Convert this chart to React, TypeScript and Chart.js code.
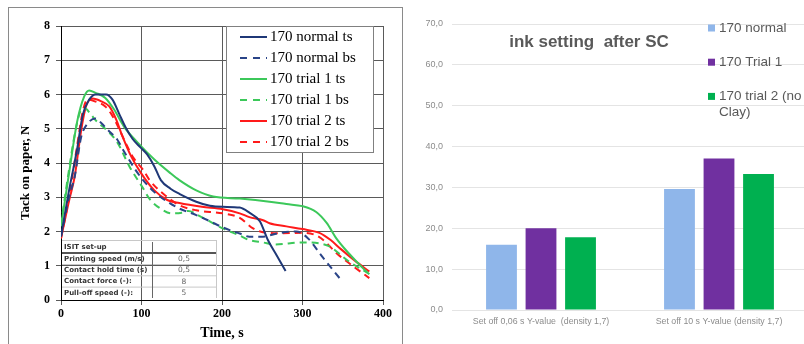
import React, { useEffect, useRef } from "react";
import { Chart, registerables } from "chart.js";

Chart.register(...registerables);

// ---------- Left chart data (time s, tack N) ----------
const normalTs: [number, number][] = [
  [0, 1.85], [10, 3.2], [20, 4.4], [27, 5.4], [35, 5.85], [43, 6.0], [56, 6.0], [64, 5.85],
  [72, 5.45], [80, 5.05], [89, 4.7], [99, 4.45], [107, 4.25], [116, 3.9], [124, 3.5], [136, 3.25],
  [147, 3.1], [168, 2.87], [185, 2.75], [201, 2.72], [222, 2.7], [234, 2.55], [247, 2.3],
  [257, 1.75], [268, 1.3], [279, 0.85],
];
const normalBs: [number, number][] = [
  [0, 1.85], [10, 3.0], [17, 3.6], [25, 4.75], [33, 5.15], [43, 5.3], [50, 5.17], [58, 4.97],
  [70, 4.68], [78, 4.35], [85, 4.08], [91, 3.85], [102, 3.5], [116, 3.15], [127, 2.95],
  [147, 2.67], [168, 2.48], [185, 2.3], [201, 2.12], [222, 1.94], [234, 1.85], [251, 1.85],
  [270, 1.95], [292, 2.0], [306, 1.82], [325, 1.25], [346, 0.64],
];
const trial1Ts: [number, number][] = [
  [0, 2.15], [10, 3.7], [20, 5.2], [29, 5.95], [35, 6.12], [43, 6.05], [55, 5.9], [66, 5.56],
  [78, 5.07], [95, 4.6], [116, 4.1], [136, 3.7], [147, 3.5], [168, 3.2], [189, 3.02],
  [222, 2.96], [259, 2.87], [280, 2.8], [300, 2.74], [317, 2.57], [330, 2.25], [342, 1.8],
  [358, 1.35], [375, 0.93], [383, 0.75],
];
const trial1Bs: [number, number][] = [
  [0, 2.2], [8, 3.5], [18, 4.95], [25, 5.55], [30, 5.6], [36, 5.45], [45, 5.2], [55, 5.0],
  [70, 4.6], [85, 3.9], [102, 3.26], [110, 2.95], [127, 2.62], [137, 2.53], [150, 2.55],
  [158, 2.6], [174, 2.43], [201, 2.09], [222, 1.88], [234, 1.75], [251, 1.68], [265, 1.62],
  [300, 1.68], [330, 1.6], [358, 1.12], [381, 0.79],
];
const trial2Ts: [number, number][] = [
  [0, 1.8], [10, 2.9], [17, 3.6], [25, 4.95], [31, 5.65], [39, 5.88], [50, 5.8], [60, 5.65],
  [68, 5.3], [76, 4.8], [87, 4.2], [99, 3.72], [116, 3.2], [132, 2.92], [147, 2.83],
  [175, 2.72], [201, 2.65], [222, 2.53], [234, 2.42], [251, 2.33], [259, 2.24], [280, 2.15],
  [300, 2.07], [321, 1.96], [335, 1.75], [347, 1.5], [365, 1.15], [383, 0.83],
];
const trial2Bs: [number, number][] = [
  [0, 1.8], [10, 3.0], [20, 4.5], [27, 5.5], [33, 5.85], [42, 5.8], [55, 5.65], [62, 5.45],
  [69, 5.15], [81, 4.55], [90, 4.15], [102, 3.8], [110, 3.5], [127, 3.1], [147, 2.77],
  [168, 2.62], [201, 2.53], [222, 2.4], [238, 2.1], [251, 1.98], [275, 1.95], [300, 1.96],
  [320, 1.85], [345, 1.31], [365, 0.95], [383, 0.64],
];
const leftSeriesNames = [
  "170 normal ts", "170 normal bs", "170 trial 1 ts", "170 trial 1 bs", "170 trial 2 ts", "170 trial 2 bs",
];
const leftSeriesData = [normalTs, normalBs, trial1Ts, trial1Bs, trial2Ts, trial2Bs];
const leftSeriesColors = ["#1f3877", "#2a4488", "#3cc85a", "#3cc85a", "#ff1a1a", "#ff1a1a"];
const leftSeriesDashed = [false, true, false, true, false, true];

const setupTitle = "ISIT set-up";
const setupLabels = ["Printing speed (m/s)", "Contact hold time (s)", "Contact force (-):", "Pull-off speed (-):"];
const setupValues = ["0,5", "0,5", "8", "5"];

// ---------- Right chart data ----------
const barCategories = ["Set off 0,06 s Y-value  (density 1,7)", "Set off 10 s Y-value (density 1,7)"];
const barSeriesNames = ["170 normal", "170 Trial 1", "170 trial 2 (no Clay)"];
const barLegendLines = [["170 normal"], ["170 Trial 1"], ["170 trial 2 (no", "Clay)"]];
const normalValues = [16.0, 29.6];
const trial1Values = [20.0, 37.1];
const trial2Values = [17.8, 33.3];
const barColors = ["#8fb6ea", "#7030a0", "#00b050"];
const barTitle = "ink setting  after SC";

const SERIF = "'Liberation Serif', 'Times New Roman', serif";
const SANS = "'Liberation Sans', Arial, sans-serif";

const leftOverlay = {
  id: "leftOverlay",
  afterDraw(chart: any) {
    const ctx = chart.ctx as CanvasRenderingContext2D;
    const a = chart.chartArea;
    ctx.save();
    // legend box
    const bx = a.left + 165, by = a.top, bw = 147, bh = 126;
    ctx.fillStyle = "#fff";
    ctx.fillRect(bx, by, bw, bh);
    ctx.strokeStyle = "#808080";
    ctx.lineWidth = 1;
    ctx.strokeRect(bx + 0.5, by + 0.5, bw, bh);
    ctx.font = `15px ${SERIF}`;
    ctx.textBaseline = "middle";
    ctx.textAlign = "left";
    leftSeriesNames.forEach((name, i) => {
      const y = by + 11 + i * 21;
      ctx.strokeStyle = leftSeriesColors[i];
      ctx.lineWidth = 2;
      ctx.setLineDash(leftSeriesDashed[i] ? [7, 6] : []);
      ctx.beginPath();
      ctx.moveTo(bx + 14, y);
      ctx.lineTo(bx + 41, y);
      ctx.stroke();
      ctx.setLineDash([]);
      ctx.fillStyle = "#000";
      ctx.fillText(name, bx + 44, y);
    });
    // set-up table
    const tx = a.left + 1, tr = a.left + 155, tcol = a.left + 91;
    const ty = a.bottom - 60;
    ctx.strokeStyle = "#c8c8c8";
    ctx.lineWidth = 1;
    ctx.beginPath();
    ctx.moveTo(tx, ty + 0.5); ctx.lineTo(tr, ty + 0.5);
    ctx.moveTo(tr + 0.5, ty); ctx.lineTo(tr + 0.5, a.bottom - 2);
    for (let r = 0; r < 3; r++) {
      const ly = ty + 24.5 + r * 11.3;
      ctx.moveTo(tx, ly); ctx.lineTo(tr, ly);
    }
    ctx.stroke();
    ctx.strokeStyle = "#666";
    ctx.beginPath();
    ctx.moveTo(tcol + 0.5, ty + 2); ctx.lineTo(tcol + 0.5, a.bottom - 2);
    ctx.stroke();
    ctx.lineWidth = 2;
    ctx.strokeStyle = "#555";
    ctx.beginPath();
    ctx.moveTo(tx, ty + 13); ctx.lineTo(tr, ty + 13);
    ctx.stroke();
    ctx.fillStyle = "#333";
    ctx.font = `bold 7px 'DejaVu Sans', sans-serif`;
    ctx.textBaseline = "middle";
    ctx.textAlign = "left";
    ctx.fillText(setupTitle, tx + 2, ty + 7);
    setupLabels.forEach((lab, i) => {
      const y = ty + 19 + i * 11.3;
      ctx.textAlign = "left";
      ctx.fillStyle = "#333";
      ctx.font = `bold 7px 'DejaVu Sans', sans-serif`;
      ctx.fillText(lab, tx + 2, y);
      ctx.textAlign = "center";
      ctx.fillStyle = "#666";
      ctx.font = `7.5px 'DejaVu Sans', sans-serif`;
      ctx.fillText(setupValues[i], (tcol + tr) / 2, y);
    });
    ctx.restore();
  },
};

const rightOverlay = {
  id: "rightOverlay",
  afterDraw(chart: any) {
    const ctx = chart.ctx as CanvasRenderingContext2D;
    const a = chart.chartArea;
    ctx.save();
    ctx.fillStyle = "#595959";
    ctx.font = `bold 17px ${SANS}`;
    ctx.textAlign = "center";
    ctx.textBaseline = "middle";
    ctx.fillText(barTitle, a.left + 137, a.top + 18);
    ctx.textAlign = "left";
    ctx.font = `13.5px ${SANS}`;
    barLegendLines.forEach((lines, i) => {
      const y = a.top + 4 + i * 34.2;
      ctx.fillStyle = barColors[i];
      ctx.fillRect(a.left + 256, y - 3.5, 7, 7);
      ctx.fillStyle = "#595959";
      lines.forEach((ln, j) => ctx.fillText(ln, a.left + 267, y + j * 15.5));
    });
    ctx.restore();
  },
};

export default function App() {
  const leftRef = useRef<HTMLCanvasElement>(null);
  const rightRef = useRef<HTMLCanvasElement>(null);

  useEffect(() => {
    const tickFont = { family: SERIF, size: 12, weight: "bold" as const };
    const left = new Chart(leftRef.current!, {
      type: "line",
      data: {
        datasets: leftSeriesData.map((d, i) => ({
          label: leftSeriesNames[i],
          data: d.map(([x, y]) => ({ x, y })),
          borderColor: leftSeriesColors[i],
          borderWidth: 2,
          borderDash: leftSeriesDashed[i] ? [7, 5] : [],
          pointRadius: 0,
          cubicInterpolationMode: "monotone" as const,
          fill: false,
        })),
      },
      options: {
        responsive: false,
        animation: false,
        layout: { padding: { left: 0, top: 26, right: 17, bottom: 0 } },
        plugins: { legend: { display: false }, tooltip: { enabled: false } },
        scales: {
          x: {
            type: "linear",
            min: 0,
            max: 400,
            ticks: { stepSize: 100, font: tickFont, color: "#000", padding: 2, maxRotation: 0 },
            grid: { color: "#5a5a5a", tickLength: 5 },
            border: { color: "#000" },
            title: {
              display: true,
              text: "Time, s",
              font: { family: SERIF, size: 14, weight: "bold" },
              color: "#000",
              padding: { top: 0, bottom: 2 },
            },
            afterFit: (s: any) => { s.height = 44; },
          },
          y: {
            min: 0,
            max: 8,
            ticks: { stepSize: 1, font: tickFont, color: "#000", padding: 6 },
            grid: { color: "#5a5a5a", tickLength: 5 },
            border: { color: "#000" },
            title: {
              display: true,
              text: "Tack on paper, N      ",
              font: { family: SERIF, size: 13, weight: "bold" },
              color: "#000",
              padding: { top: 18, bottom: 0 },
            },
            afterFit: (s: any) => { s.width = 61; },
          },
        },
      },
      plugins: [leftOverlay],
    });

    const right = new Chart(rightRef.current!, {
      type: "bar",
      data: {
        labels: barCategories,
        datasets: [normalValues, trial1Values, trial2Values].map((vals, i) => ({
          label: barSeriesNames[i],
          data: vals,
          backgroundColor: barColors[i],
          categoryPercentage: 0.666,
          barPercentage: 0.78,
        })),
      },
      options: {
        responsive: false,
        animation: false,
        layout: { padding: { left: 0, top: 24, right: 6, bottom: 0 } },
        plugins: { legend: { display: false }, tooltip: { enabled: false } },
        scales: {
          x: {
            grid: { display: false, drawTicks: false },
            border: { display: false },
            ticks: { font: { family: SANS, size: 8.8 }, color: "#8c8c8c", padding: 6, maxRotation: 0 },
            afterFit: (s: any) => { s.height = 34; },
          },
          y: {
            min: 0,
            max: 70,
            grid: { color: "#e4e4e4", drawTicks: false },
            border: { display: false },
            ticks: {
              stepSize: 10,
              font: { family: SANS, size: 9 },
              color: "#8c8c8c",
              padding: 9,
              callback: (v: any) => Number(v).toFixed(1).replace(".", ","),
            },
            afterFit: (s: any) => { s.width = 48; },
          },
        },
      },
      plugins: [rightOverlay],
    });

    return () => {
      left.destroy();
      right.destroy();
    };
  }, []);

  return (
    <div style={{ position: "absolute", left: 0, top: 0, width: 804, height: 344, overflow: "hidden", background: "#fff" }}>
      <div
        style={{
          position: "absolute", left: 8, top: 7, width: 395, height: 360,
          border: "1px solid #8a8a8a", boxSizing: "border-box",
        }}
      />
      <canvas ref={leftRef} width={400} height={344} style={{ position: "absolute", left: 0, top: 0 }} />
      <canvas ref={rightRef} width={410} height={344} style={{ position: "absolute", left: 404, top: 0 }} />
    </div>
  );
}
